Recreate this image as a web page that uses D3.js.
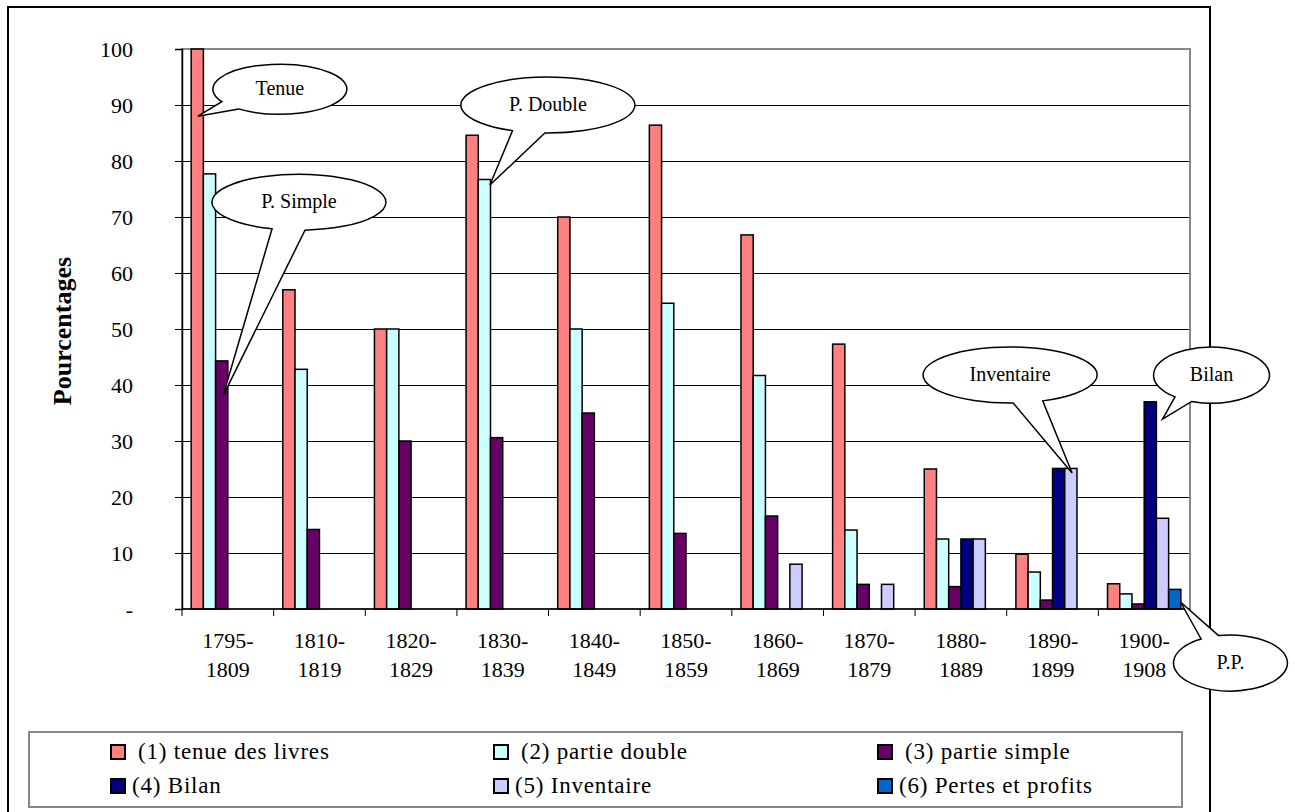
<!DOCTYPE html>
<html>
<head>
<meta charset="utf-8">
<script src="https://cdn.jsdelivr.net/npm/d3@7"></script>
<style>
  body { margin: 0; background: #fff; }
  svg { display: block; font-family: "Liberation Serif", "Times New Roman", serif; }
</style>
</head>
<body>
<div id="chart"></div>
<script>
// périodes
const periodes = ["1795-1809", "1810-1819", "1820-1829", "1830-1839", "1840-1849",
  "1850-1859", "1860-1869", "1870-1879", "1880-1889", "1890-1899", "1900-1908"];

// séries (%), null = pas de barre
const tenue      = [100, 57.0, 50, 84.6, 70, 86.4, 66.8, 47.3, 25, 9.8, 4.5];
const double     = [77.7, 42.8, 50, 76.7, 50, 54.6, 41.7, 14.1, 12.5, 6.6, 2.7];
const simple     = [44.3, 14.2, 30, 30.6, 35, 13.5, 16.6, 4.4, 4.0, 1.6, 0.9];
const bilan      = [null, null, null, null, null, null, null, null, 12.5, 25.1, 37.0];
const inventaire = [null, null, null, null, null, null, 8.0, 4.4, 12.5, 25.1, 16.2];
const pertes     = [null, null, null, null, null, null, null, null, null, null, 3.5];

const keys = ["tenue", "double", "simple", "bilan", "inventaire", "pertes"];
const seriesValues = { tenue, double, simple, bilan, inventaire, pertes };
const legendLabels = ["(1) tenue des livres", "(2) partie double", "(3) partie simple",
  "(4) Bilan", "(5) Inventaire", "(6) Pertes et profits"];
const colors = ["#FF8080", "#CCFFFF", "#660066", "#000080", "#CCCCFF", "#0066CC"];

const yTicks = [0, 10, 20, 30, 40, 50, 60, 70, 80, 90, 100];
const yTickLabels = ["-", "10", "20", "30", "40", "50", "60", "70", "80", "90", "100"];

// bulles : barre visée + décalage du centre de l'ellipse
const bulles = [
  { text: "Tenue",      cat: "1795-1809", key: "tenue",      frac: 0.55, val: 88,   dx: 82,  dy: -27,  rx: 67, ry: 25, a1: 128, a2: 150 },
  { text: "P. Simple",  cat: "1795-1809", key: "simple",     frac: 0.6,  val: 38,   dx: 76,  dy: -194, rx: 87, ry: 28, a1: 86,  a2: 108 },
  { text: "P. Double",  cat: "1830-1839", key: "double",     frac: 0.95, val: 75.7, dx: 58,  dy: -80,  rx: 87, ry: 28, a1: 92,  a2: 114 },
  { text: "Inventaire", cat: "1890-1899", key: "inventaire", frac: 0.6,  val: 24.3, dx: -62, dy: -98,  rx: 87, ry: 28, a1: 68,  a2: 88 },
  { text: "Bilan",      cat: "1900-1908", key: "bilan",      frac: 1.5,  val: 33.9, dx: 49,  dy: -44,  rx: 58, ry: 28, a1: 110, a2: 129 },
  { text: "P.P.",       cat: "1900-1908", key: "pertes",     frac: 0.97, val: 1.25, dx: 50,  dy: 61,   rx: 57, ry: 28, a1: 239, a2: 258 }
];

const width = 1295, height = 812;
const margin = { top: 49, right: 105, bottom: 203, left: 182 };

const svg = d3.select("#chart").append("svg")
  .attr("width", width)
  .attr("height", height);

// cadre extérieur
svg.append("rect")
  .attr("x", 8).attr("y", 7)
  .attr("width", 1202).attr("height", 840)
  .attr("fill", "none").attr("stroke", "#000").attr("stroke-width", 2);

// échelles
const x0 = d3.scaleBand()
  .domain(periodes)
  .range([margin.left, width - margin.right]);

const x1 = d3.scaleBand()
  .domain(keys)
  .range([0, x0.bandwidth()])
  .paddingOuter(0.75);

const y = d3.scaleLinear()
  .domain([0, 100])
  .range([height - margin.bottom, margin.top]);

// grille
svg.append("g")
  .selectAll("line")
  .data(yTicks.filter(d => d > 0 && d < 100))
  .join("line")
  .attr("x1", margin.left).attr("x2", width - margin.right)
  .attr("y1", d => y(d)).attr("y2", d => y(d))
  .attr("stroke", "#000").attr("stroke-width", 1)
  .attr("shape-rendering", "crispEdges");

// zone de tracé
svg.append("rect")
  .attr("x", margin.left).attr("y", margin.top)
  .attr("width", width - margin.right - margin.left)
  .attr("height", y(0) - margin.top)
  .attr("fill", "none").attr("stroke", "#888").attr("stroke-width", 2);

// barres
const rows = periodes.map((p, i) => {
  const o = { periode: p };
  keys.forEach(k => o[k] = seriesValues[k][i]);
  return o;
});

svg.append("g")
  .selectAll("g")
  .data(rows)
  .join("g")
  .attr("transform", d => `translate(${x0(d.periode)},0)`)
  .selectAll("rect")
  .data(d => keys.map((k, j) => ({ key: k, value: d[k], color: colors[j] })).filter(e => e.value != null))
  .join("rect")
  .attr("x", d => x1(d.key))
  .attr("y", d => y(d.value))
  .attr("width", x1.bandwidth())
  .attr("height", d => y(0) - y(d.value))
  .attr("fill", d => d.color)
  .attr("stroke", "#000")
  .attr("stroke-width", 1.5);

// axe Y
const axisY = svg.append("g")
  .attr("transform", `translate(${margin.left},0)`)
  .call(d3.axisLeft(y).tickValues(yTicks).tickSize(7).tickPadding(42)
    .tickFormat((d, i) => yTickLabels[i]));
axisY.select(".domain").attr("stroke", "#000").attr("stroke-width", 1.5);
axisY.selectAll(".tick line").attr("stroke", "#000").attr("shape-rendering", "crispEdges");
axisY.selectAll(".tick text")
  .style("font-family", "'Liberation Serif', serif")
  .style("font-size", "22px")
  .attr("fill", "#000");

// axe X
const axisX = svg.append("g")
  .attr("transform", `translate(0,${y(0)})`);
axisX.append("line")
  .attr("x1", margin.left).attr("x2", width - margin.right)
  .attr("stroke", "#000").attr("stroke-width", 1.5);
axisX.selectAll(".tk")
  .data(periodes)
  .join("line")
  .attr("class", "tk")
  .attr("x1", d => x0(d)).attr("x2", d => x0(d))
  .attr("y1", 0).attr("y2", 7)
  .attr("stroke", "#000");
const xl = axisX.selectAll(".lab")
  .data(periodes)
  .join("text")
  .attr("class", "lab")
  .attr("text-anchor", "middle")
  .style("font-size", "22px");
xl.append("tspan")
  .attr("x", d => x0(d) + x0.bandwidth() / 2)
  .attr("y", 39)
  .text(d => d.split("-")[0] + "-");
xl.append("tspan")
  .attr("x", d => x0(d) + x0.bandwidth() / 2)
  .attr("y", 68)
  .text(d => d.split("-")[1]);

// titre Y
svg.append("text")
  .attr("transform", `translate(71,${(margin.top + y(0)) / 2 + 2}) rotate(-90)`)
  .attr("text-anchor", "middle")
  .style("font-size", "26px")
  .style("font-weight", "bold")
  .text("Pourcentages");

// bulles
const rad = a => a * Math.PI / 180;
bulles.forEach(b => {
  const tx = x0(b.cat) + x1(b.key) + b.frac * x1.bandwidth();
  const ty = y(b.val);
  const cx = tx + b.dx, cy = ty + b.dy;
  const p1 = [cx + b.rx * Math.cos(rad(b.a1)), cy + b.ry * Math.sin(rad(b.a1))];
  const p2 = [cx + b.rx * Math.cos(rad(b.a2)), cy + b.ry * Math.sin(rad(b.a2))];
  const path = `M${p2[0]},${p2[1]} A${b.rx},${b.ry} 0 1 1 ${p1[0]},${p1[1]} L${tx},${ty} Z`;
  svg.append("path")
    .attr("d", path)
    .attr("fill", "#fff")
    .attr("stroke", "#000")
    .attr("stroke-width", 1.5);
  svg.append("text")
    .attr("x", cx).attr("y", cy)
    .attr("dy", "0.3em")
    .attr("text-anchor", "middle")
    .style("font-size", "20px")
    .text(b.text);
});

// légende
const legend = svg.append("g");
legend.append("rect")
  .attr("x", 29).attr("y", 732)
  .attr("width", 1153).attr("height", 75)
  .attr("fill", "#fff").attr("stroke", "#888").attr("stroke-width", 2);

const colX = [111, 494, 878];
legendLabels.forEach((lab, i) => {
  const col = i % 3, row = Math.floor(i / 3);
  const sx = colX[col], sy = 745 + row * 34;
  legend.append("rect")
    .attr("x", sx).attr("y", sy)
    .attr("width", 14).attr("height", 14)
    .attr("fill", colors[i])
    .attr("stroke", "#000").attr("stroke-width", 2);
  legend.append("text")
    .attr("x", sx + (row === 0 ? 27 : 21))
    .attr("y", sy + 14)
    .style("font-size", "23px")
    .style("letter-spacing", "0.8px")
    .text(lab);
});
</script>
</body>
</html>
